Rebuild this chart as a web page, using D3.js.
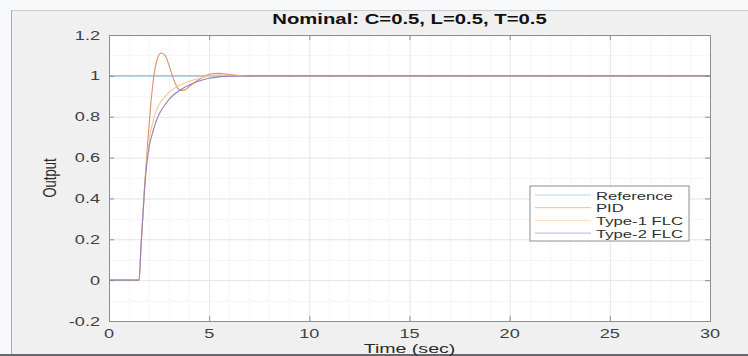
<!DOCTYPE html>
<html>
<head>
<meta charset="utf-8">
<script src="https://cdn.jsdelivr.net/npm/d3@7"></script>
<style>
  body { margin: 0; background: #f0f0f0; }
  svg { display: block; font-family: "Liberation Sans", Arial, sans-serif; }
</style>
</head>
<body>
<div id="chart"></div>
<script>
// sample times (sec)
const time = [0, 1.5, 1.6, 1.7, 1.8, 1.9, 2.0, 2.2, 2.4, 2.6, 2.8, 3.0, 3.2, 3.4, 3.6, 3.8, 4.0, 4.5, 5.0, 5.5, 6.0, 6.5, 7.0, 8.0, 10, 15, 20, 25, 30]

const reference = [1, 1, 1, 1, 1, 1, 1, 1, 1, 1, 1, 1, 1, 1, 1, 1, 1, 1, 1, 1, 1, 1, 1, 1, 1, 1, 1, 1, 1]
const pid = [0, 0, 0.17, 0.33, 0.49, 0.63, 0.76, 0.97, 1.08, 1.112, 1.1, 1.05, 0.99, 0.945, 0.928, 0.932, 0.948, 0.982, 1.008, 1.012, 1.006, 1.002, 1.0, 1.0, 1, 1, 1, 1, 1]
const type1 = [0, 0, 0.17, 0.33, 0.49, 0.6, 0.68, 0.78, 0.84, 0.875, 0.9, 0.92, 0.935, 0.948, 0.958, 0.966, 0.973, 0.988, 1.0, 1.004, 1.003, 1.001, 1.0, 1.0, 1, 1, 1, 1, 1]
const type2 = [0, 0, 0.17, 0.33, 0.48, 0.58, 0.65, 0.73, 0.79, 0.83, 0.86, 0.885, 0.905, 0.92, 0.933, 0.945, 0.955, 0.975, 0.988, 0.995, 0.998, 0.999, 1.0, 1.0, 1, 1, 1, 1, 1]

const seriesNames = ['Reference', 'PID', 'Type-1 FLC', 'Type-2 FLC']
const seriesData = [reference, pid, type1, type2]
const colors = ['#86b8e0', '#dc9168', '#f2cd90', '#9580ba']

const xTicks = [0, 5, 10, 15, 20, 25, 30]
const yTicks = [-0.2, 0, 0.2, 0.4, 0.6, 0.8, 1, 1.2]

const title = 'Nominal: C=0.5, L=0.5, T=0.5'
const xLabel = 'Time (sec)'
const yLabel = 'Output'

const W = 748, H = 356
const margin = { top: 35, right: 38, bottom: 35, left: 109 }
const width = W - margin.left - margin.right
const height = H - margin.top - margin.bottom
const sx = 1.45 // screenshot is stretched sideways

const svg = d3.select('#chart').append('svg')
  .attr('width', W)
  .attr('height', H)

// window frame
svg.append('rect').attr('x', 0).attr('y', 0).attr('width', W).attr('height', 10).attr('fill', '#f8f9fb')
svg.append('rect').attr('x', 0).attr('y', 0).attr('width', 11).attr('height', H).attr('fill', '#f6f8fb')
svg.append('line').attr('x1', 11).attr('x2', W).attr('y1', 10.5).attr('y2', 10.5).attr('stroke', '#c9cbce')
svg.append('line').attr('x1', 11.5).attr('x2', 11.5).attr('y1', 10).attr('y2', H).attr('stroke', '#a9abae')
svg.append('rect').attr('x', 0).attr('y', 354).attr('width', W).attr('height', 2).attr('fill', '#66686c')

const x = d3.scaleLinear().domain([0, 30]).range([0, width])
const y = d3.scaleLinear().domain([-0.2, 1.2]).range([height, 0])

const chart = svg.append('g')
  .attr('transform', `translate(${margin.left}, ${margin.top})`)

chart.append('rect')
  .attr('width', width).attr('height', height)
  .attr('fill', '#fff')

// minor grid
chart.append('g')
  .selectAll('line')
  .data(d3.range(1, 30).filter(d => d % 5 !== 0))
  .join('line')
  .attr('x1', d => Math.round(x(d)) + 0.5).attr('x2', d => Math.round(x(d)) + 0.5)
  .attr('y1', 0).attr('y2', height)
  .attr('stroke', '#ededed').attr('stroke-dasharray', '1,1')
chart.append('g')
  .selectAll('line')
  .data(d3.range(-0.1, 1.2, 0.2))
  .join('line')
  .attr('y1', d => Math.round(y(d)) + 0.5).attr('y2', d => Math.round(y(d)) + 0.5)
  .attr('x1', 0).attr('x2', width)
  .attr('stroke', '#ededed').attr('stroke-dasharray', '1,1')

// major grid
chart.append('g')
  .call(d3.axisBottom(x).tickValues(xTicks).tickSize(height).tickFormat(''))
  .call(g => g.select('.domain').remove())
  .selectAll('line').attr('stroke', '#e4e4e4')
chart.append('g')
  .call(d3.axisRight(y).tickValues(yTicks).tickSize(width).tickFormat(''))
  .call(g => g.select('.domain').remove())
  .selectAll('line').attr('stroke', '#e4e4e4')

// lines
const line = d3.line()
  .curve(d3.curveMonotoneX)
  .x((d, i) => x(time[i]))
  .y(d => y(d))

seriesData.forEach((s, i) => {
  chart.append('path')
    .datum(s)
    .attr('fill', 'none')
    .attr('stroke', colors[i])
    .attr('stroke-width', 1.1)
    .attr('d', line)
})

// axes (ticks inside, box on)
const axisColor = '#8e8e8e'
const xAxis = chart.append('g')
  .attr('transform', `translate(0, ${height})`)
  .call(d3.axisBottom(x).tickValues(xTicks).tickSize(-5).tickFormat(''))
const xTop = chart.append('g')
  .call(d3.axisTop(x).tickValues(xTicks).tickSize(-5).tickFormat(''))
const yAxis = chart.append('g')
  .call(d3.axisLeft(y).tickValues(yTicks).tickSize(-5).tickFormat(''))
const yRight = chart.append('g')
  .attr('transform', `translate(${width}, 0)`)
  .call(d3.axisRight(y).tickValues(yTicks).tickSize(-5).tickFormat(''))
;[xAxis, xTop, yAxis, yRight].forEach(g => {
  g.selectAll('.domain').attr('stroke', axisColor)
  g.selectAll('line').attr('stroke', axisColor)
})

// tick labels
chart.append('g')
  .selectAll('text')
  .data(xTicks)
  .join('text')
  .attr('transform', d => `translate(${x(d)}, ${height + 17}) scale(${sx}, 1)`)
  .attr('text-anchor', 'middle')
  .attr('font-size', 12.5)
  .attr('fill', '#404040')
  .text(d => d)
chart.append('g')
  .selectAll('text')
  .data(yTicks)
  .join('text')
  .attr('transform', d => `translate(-9, ${y(d) + 4.5}) scale(${sx}, 1)`)
  .attr('text-anchor', 'end')
  .attr('font-size', 12.5)
  .attr('fill', '#404040')
  .text(d => d)

// axis labels and title
chart.append('text')
  .attr('transform', `translate(${width / 2}, ${height + 32}) scale(${sx}, 1)`)
  .attr('text-anchor', 'middle')
  .attr('font-size', 13.5)
  .attr('fill', '#2a2a2a')
  .text(xLabel)
chart.append('text')
  .attr('transform', `translate(-53, ${height / 2}) rotate(-90) scale(1, ${sx})`)
  .attr('text-anchor', 'middle')
  .attr('font-size', 13)
  .attr('fill', '#2a2a2a')
  .text(yLabel)
chart.append('text')
  .attr('transform', `translate(${width / 2}, -11) scale(${sx}, 1)`)
  .attr('text-anchor', 'middle')
  .attr('font-size', 14)
  .attr('font-weight', 'bold')
  .attr('fill', '#111')
  .text(title)

// legend
const legend = chart.append('g')
  .attr('transform', `translate(${530 - margin.left}, ${186 - margin.top})`)
legend.append('rect')
  .attr('width', 159).attr('height', 55)
  .attr('fill', '#fff').attr('stroke', '#8e8e8e')
seriesNames.forEach((name, i) => {
  const row = legend.append('g').attr('transform', `translate(0, ${9 + i * 12.7})`)
  row.append('line')
    .attr('x1', 5).attr('x2', 61)
    .attr('stroke', colors[i]).attr('stroke-width', 1)
    .attr('opacity', 0.6)
  row.append('text')
    .attr('transform', `translate(66, 4.5) scale(${sx}, 1)`)
    .attr('font-size', 11.5)
    .attr('fill', '#303030')
    .text(name)
})
</script>
</body>
</html>
